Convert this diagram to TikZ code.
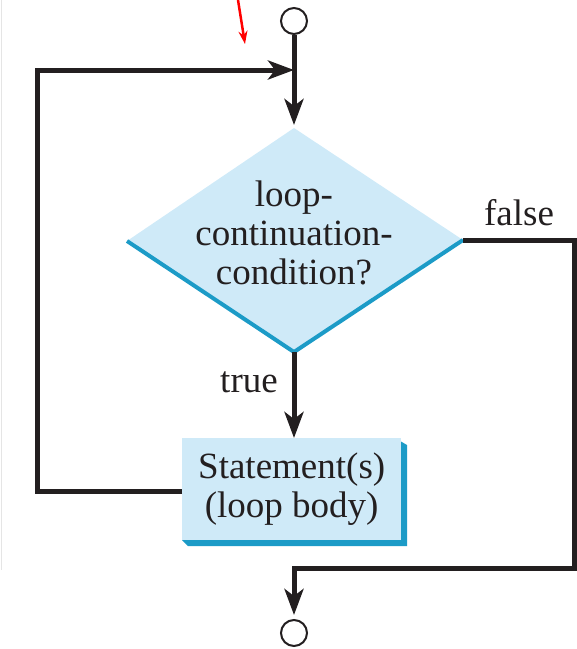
\documentclass[tikz,border=0pt]{standalone}
\usepackage{fontspec}
\setmainfont{Liberation Serif}
\usetikzlibrary{arrows.meta}
\definecolor{flowfill}{HTML}{CFEAF8}
\definecolor{flowedge}{HTML}{1C9BC7}
\definecolor{ink}{HTML}{231F20}
\begin{document}
\begin{tikzpicture}[x=1pt,y=-1pt,
  flow/.style={draw=ink,line width=5pt,line join=miter},
  arr/.style={-{Stealth[length=26pt,width=19pt,inset=7pt]}},
  txt/.style={font=\fontsize{37}{39}\selectfont,text=ink,inner sep=0pt,align=center},
  terminal/.style={circle,draw=ink,line width=2pt,fill=white,minimum size=26pt,inner sep=0pt}]
\useasboundingbox (0,0) rectangle (577,649);
% faint page edge
\draw[black!10,line width=1.5pt] (1.5,0) -- (1.5,570);

% start / stop terminals
\node[terminal] (start) at (294,21) {};
\node[terminal] (stop) at (294,633) {};

% decision diamond
\coordinate (dT) at (294,128);
\coordinate (dR) at (463,240);
\coordinate (dB) at (294,352);
\coordinate (dL) at (127,241);
\fill[flowfill] (dT) -- (dR) -- (dB) -- (dL) -- cycle;
\draw[flowedge,line width=4pt,line join=miter] (dL) -- (dB) -- (dR);
\node[txt] (cond) at (294,233) {loop-\\continuation-\\condition?};

% loop body with its shadow
\fill[flowedge] (395,438) -- (407,445) -- (407,546) -- (188,546) -- (182,540) -- cycle;
\node[rectangle,fill=flowfill,minimum width=219pt,minimum height=102pt,inner sep=0pt,anchor=north west] (body) at (182,438) {};
\node[txt] (bodytext) at (body.center) {Statement(s)\\(loop body)};

% labels
\node[txt] (truelbl) at (249,382) {true};
\node[txt] (falselbl) at (519,213) {false};

% connectors
\coordinate (join) at (294,70);
\coordinate (lb) at (37,491);
\coordinate (lt) at (37,70);
\coordinate (rt) at (574,240);
\coordinate (rb) at (574,568);
\coordinate (mb) at (294,568);
\draw[flow] (start) -- (join);
\draw[flow,arr,shorten >=3pt] (join) -- (dT);
\draw[flow,arr] (body.west |- lb) -- (lb) -- (lt) -- (join);
\draw[flow,arr] (dB) -- (dB |- body.north);
\draw[flow,arr,shorten >=4pt] (dR) -- (rt) -- (rb) -- (mb) -- (stop);

% red pointer
\coordinate (redA) at (238,0);
\coordinate (redB) at (245,44);
\draw[red,line width=2.5pt,-{Stealth[length=13pt,width=9pt]}] (redA) -- (redB);
\end{tikzpicture}
\end{document}
